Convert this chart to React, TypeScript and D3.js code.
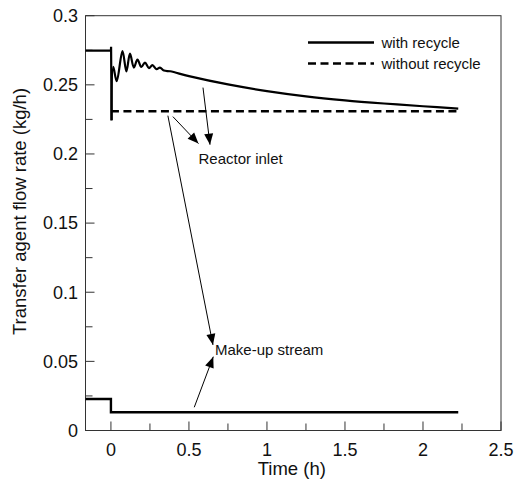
import React from "react";
import * as d3 from "d3";

const W = 514;
const H = 480;
const M = { left: 85.5, right: 13, top: 15.7, bottom: 49.5 };

const xDomain: [number, number] = [-0.163, 2.5];
const yDomain: [number, number] = [0, 0.3];
const xTicks = [0, 0.5, 1, 1.5, 2, 2.5];
const xTickLabels = ["0", "0.5", "1", "1.5", "2", "2.5"];
const xMinorTicks = [0.25, 0.75, 1.25, 1.75, 2.25];
const yTicks = [0, 0.05, 0.1, 0.15, 0.2, 0.25, 0.3];
const yTickLabels = ["0", "0.05", "0.1", "0.15", "0.2", "0.25", "0.3"];
const yMinorTicks = [0.025, 0.075, 0.125, 0.175, 0.225, 0.275];

// with recycle (reactor inlet): step part
const withStepTime = [-0.163, 0, 0.001, 0.004];
const withStepFlow = [0.2748, 0.2748, 0.2775, 0.2243];
// with recycle: oscillation and slow decay
const withTime = [
  0.004, 0.015, 0.037, 0.074, 0.099, 0.122, 0.147, 0.17, 0.195, 0.218, 0.244, 0.266,
  0.292, 0.314, 0.34, 0.38, 0.5, 0.75, 1.0, 1.25, 1.5, 1.75, 2.0, 2.226,
];
const withFlow = [
  0.2243, 0.263, 0.2526, 0.2744, 0.2597, 0.2726, 0.2625, 0.2683, 0.2629, 0.2661,
  0.2621, 0.2643, 0.2614, 0.2625, 0.2603, 0.2598, 0.2563, 0.2503, 0.2455, 0.2417,
  0.2388, 0.2365, 0.2345, 0.2328,
];
// without recycle
const withoutTime = [0, 2.226];
const withoutFlow = [0.2309, 0.2309];
// make-up stream
const makeupTime = [-0.163, 0, 0, 2.226];
const makeupFlow = [0.0228, 0.0228, 0.0132, 0.0132];

// annotation arrows [t0, v0, t1, v1] (tail -> head)
const arrows: [number, number, number, number][] = [
  [0.59, 0.248, 0.635, 0.2067],
  [0.397, 0.227, 0.561, 0.2075],
  [0.365, 0.2277, 0.654, 0.0619],
  [0.534, 0.0168, 0.656, 0.0534],
];
const labels: { text: string; t: number; v: number }[] = [
  { text: "Reactor inlet", t: 0.561, v: 0.193 },
  { text: "Make-up stream", t: 0.667, v: 0.0547 },
];
const legendItems = [
  { text: "with recycle", dash: "none" },
  { text: "without recycle", dash: "8,4.5" },
];

const FONT = "'Liberation Sans', Arial, Helvetica, sans-serif";

export default function App() {
  const x = d3.scaleLinear().domain(xDomain).range([M.left, W - M.right]);
  const y = d3.scaleLinear().domain(yDomain).range([H - M.bottom, M.top]);
  const line = d3
    .line<[number, number]>()
    .x((d) => x(d[0]))
    .y((d) => y(d[1]));
  const smooth = d3
    .line<[number, number]>()
    .x((d) => x(d[0]))
    .y((d) => y(d[1]))
    .curve(d3.curveCatmullRom.alpha(0.5));
  const zip = (a: number[], b: number[]) => a.map((t, i) => [t, b[i]] as [number, number]);

  const x0 = M.left;
  const x1 = W - M.right;
  const y0 = H - M.bottom;
  const y1 = M.top;

  const arrowHead = (ax: number, ay: number, bx: number, by: number) => {
    const dx = bx - ax;
    const dy = by - ay;
    const len = Math.hypot(dx, dy);
    const ux = dx / len;
    const uy = dy / len;
    const L = 11;
    const hw = 4.5;
    const bxp = bx - ux * L;
    const byp = by - uy * L;
    return `${bx},${by} ${bxp - uy * hw},${byp + ux * hw} ${bxp + uy * hw},${byp - ux * hw}`;
  };

  return (
    <svg
      width={W}
      height={H}
      style={{ position: "absolute", left: 0, top: 0, background: "#fff" }}
      fontFamily={FONT}
    >
      <rect x={0} y={0} width={W} height={H} fill="#fff" />
      {/* ticks */}
      {xTicks.map((t) => (
        <line key={"xt" + t} x1={x(t)} x2={x(t)} y1={y0} y2={y0 - 9} stroke="#333" strokeWidth={1} />
      ))}
      {xMinorTicks.map((t) => (
        <line key={"xm" + t} x1={x(t)} x2={x(t)} y1={y0} y2={y0 - 7} stroke="#333" strokeWidth={1} />
      ))}
      {yTicks.map((t) => (
        <line key={"yt" + t} x1={x0} x2={x0 + 9} y1={y(t)} y2={y(t)} stroke="#333" strokeWidth={1} />
      ))}
      {yMinorTicks.map((t) => (
        <line key={"ym" + t} x1={x0} x2={x0 + 7} y1={y(t)} y2={y(t)} stroke="#333" strokeWidth={1} />
      ))}
      {/* frame */}
      <rect x={x0} y={y1} width={x1 - x0} height={y0 - y1} fill="none" stroke="#333" strokeWidth={1} />
      {/* tick labels */}
      {xTicks.map((t, i) => (
        <text key={"xl" + t} x={x(t)} y={y0 + 25} textAnchor="middle" fontSize={18} fill="#111">
          {xTickLabels[i]}
        </text>
      ))}
      {yTicks.map((t, i) => (
        <text
          key={"yl" + t}
          x={x0 - 7.5}
          y={y(t)}
          dy="0.35em"
          textAnchor="end"
          fontSize={18}
          fill="#111"
        >
          {yTickLabels[i]}
        </text>
      ))}
      {/* axis titles */}
      <text x={(x0 + x1) / 2 - 1.5} y={475} textAnchor="middle" fontSize={18.5} fill="#111">
        Time (h)
      </text>
      <text
        transform={`translate(26,211.5) rotate(-90)`}
        textAnchor="middle"
        fontSize={18.5}
        fill="#111"
      >
        Transfer agent flow rate (kg/h)
      </text>
      {/* data */}
      <path d={line(zip(makeupTime, makeupFlow)) || ""} fill="none" stroke="#000" strokeWidth={2.4} />
      <path
        d={line(zip(withoutTime, withoutFlow)) || ""}
        fill="none"
        stroke="#000"
        strokeWidth={2.4}
        strokeDasharray="8,4.5"
      />
      <path
        d={line(zip(withStepTime, withStepFlow)) || ""}
        fill="none"
        stroke="#000"
        strokeWidth={2.2}
        strokeLinejoin="miter"
      />
      <path
        d={smooth(zip(withTime, withFlow)) || ""}
        fill="none"
        stroke="#000"
        strokeWidth={2.2}
        strokeLinejoin="round"
      />
      {/* annotations */}
      {arrows.map((a, i) => {
        const ax = x(a[0]);
        const ay = y(a[1]);
        const bx = x(a[2]);
        const by = y(a[3]);
        return (
          <g key={"ar" + i}>
            <line x1={ax} y1={ay} x2={bx} y2={by} stroke="#000" strokeWidth={1} />
            <polygon points={arrowHead(ax, ay, bx, by)} fill="#000" />
          </g>
        );
      })}
      {labels.map((l) => (
        <text key={l.text} x={x(l.t)} y={y(l.v)} fontSize={15} fill="#111">
          {l.text}
        </text>
      ))}
      {/* legend */}
      {legendItems.map((it, i) => (
        <g key={it.text}>
          <line
            x1={308}
            x2={374}
            y1={42.5 + i * 21}
            y2={42.5 + i * 21}
            stroke="#000"
            strokeWidth={2.4}
            strokeDasharray={it.dash}
          />
          <text x={381.5} y={47.8 + i * 21} fontSize={15} fill="#111">
            {it.text}
          </text>
        </g>
      ))}
    </svg>
  );
}
